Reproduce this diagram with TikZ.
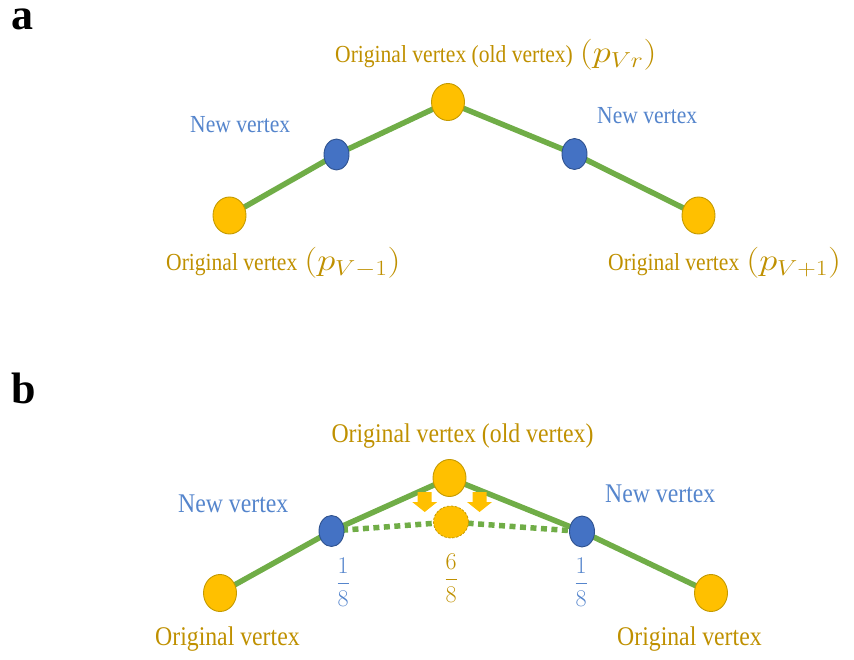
\RequirePackage{fix-cm}
\documentclass[tikz,border=0pt]{standalone}
\usepackage{graphicx}
\usepackage{fontspec}
\setmainfont[FakeStretch=0.88]{Liberation Serif}
\newfontfamily\panelfont{Liberation Serif}
\usetikzlibrary{shapes.geometric,backgrounds}
\definecolor{vorange}{HTML}{FFC000}
\definecolor{vorangeedge}{HTML}{C49A00}
\definecolor{otext}{HTML}{BF9000}
\definecolor{vblue}{HTML}{4472C4}
\definecolor{vblueedge}{HTML}{2F528F}
\definecolor{btext}{HTML}{5585CC}
\definecolor{vgreen}{HTML}{70AD47}
\begin{document}
\begin{tikzpicture}[x=1pt,y=-1pt,
 origv/.style={ellipse, fill=vorange, draw=vorangeedge, line width=0.9pt, minimum width=33pt, minimum height=37pt, inner sep=0pt},
 ghostv/.style={ellipse, fill=vorange, draw=vorangeedge, line width=0.8pt, dash pattern=on 2.5pt off 1.5pt, minimum width=35pt, minimum height=32pt, inner sep=0pt},
 newv/.style={ellipse, fill=vblue, draw=vblueedge, line width=0.9pt, minimum width=25pt, minimum height=31pt, inner sep=0pt},
 greenedge/.style={vgreen, line width=5.5pt},
 dotedge/.style={vgreen, line width=5.5pt, dash pattern=on 6pt off 4.5pt},
 otxt/.style={text=otext, font=\fontsize{24.5}{28}\selectfont, inner sep=0pt},
 btxt/.style={text=btext, font=\fontsize{24.5}{28}\selectfont, inner sep=0pt},
 otxtb/.style={text=otext, font=\fontsize{27}{30}\selectfont, inner sep=0pt},
 btxtb/.style={text=btext, font=\fontsize{27}{30}\selectfont, inner sep=0pt},
 frac/.style={font=\fontsize{24}{26}\selectfont, inner sep=0pt},
 panel/.style={font=\panelfont\fontsize{44}{48}\selectfont\bfseries, inner sep=0pt},
 downarrow/.pic={\fill[vorange] (-7,-10) -- (7,-10) -- (7,0) -- (12.5,0) -- (0,10) -- (-12.5,0) -- (-7,0) -- cycle;}]
\useasboundingbox (0,0) rectangle (854,660);
\newcommand{\mth}[1]{\hspace{7pt}\scalebox{1.18}[1]{\fontsize{31}{32}\selectfont$#1$}}

% ---------- panel a ----------
\node[panel, anchor=base west, text height=22pt, text depth=0pt] (la) at (11,30) {a};
\node[origv] (aL) at (229.5,215.5) {};
\node[newv]  (aNL) at (336.5,154.5) {};
\node[origv] (aT) at (448,102) {};
\node[newv]  (aNR) at (574.5,154) {};
\node[origv] (aR) at (698.5,215.5) {};
\begin{scope}[on background layer]
\draw[greenedge] (aL.center) -- (aNL.center) -- (aT.center) -- (aNR.center) -- (aR.center);
\end{scope}
\node[otxt, anchor=base west] (aTt) at (335,63) {Original vertex (old vertex)\mth{(p_{Vr})}};
\node[btxt, anchor=base west] (aNLt) at (190,133) {New vertex};
\node[btxt, anchor=base west] (aNRt) at (597,124) {New vertex};
\node[otxt, anchor=base west] (aLt) at (166,271) {Original vertex\mth{(p_{V-1})}};
\node[otxt, anchor=base west] (aRt) at (608,271) {Original vertex\mth{(p_{V+1})}};

% ---------- panel b ----------
\node[panel, anchor=base west] (lb) at (11,403) {b};
\node[origv] (bL) at (220,593) {};
\node[newv]  (bNL) at (331.5,531) {};
\node[origv] (bT) at (449.5,478) {};
\node[ghostv] (bG) at (451,522) {};
\node[newv]  (bNR) at (582,531.5) {};
\node[origv] (bR) at (711,593) {};
\begin{scope}[on background layer]
\draw[greenedge] (bL.center) -- (bNL.center) -- (bT.center) -- (bNR.center) -- (bR.center);
\draw[dotedge] (bNL.center) -- (bG.center) -- (bNR.center);
\end{scope}
\pic at (424.7,502) {downarrow};
\pic at (479.5,502) {downarrow};
\node[otxtb, anchor=base] (bTt) at (462.5,442) {Original vertex (old vertex)};
\node[btxtb, anchor=base west] (bNLt) at (178,512) {New vertex};
\node[btxtb, anchor=base west] (bNRt) at (605,502) {New vertex};
\node[otxtb, anchor=base west] (bLt) at (155,645) {Original vertex};
\node[otxtb, anchor=base west] (bRt) at (617,645) {Original vertex};
\node[frac, text=btext] (f1) at (343,582) {$\displaystyle\frac{1}{8}$};
\node[frac, text=otext] (f2) at (451,578) {$\displaystyle\frac{6}{8}$};
\node[frac, text=btext] (f3) at (581,582) {$\displaystyle\frac{1}{8}$};
\end{tikzpicture}
\end{document}
